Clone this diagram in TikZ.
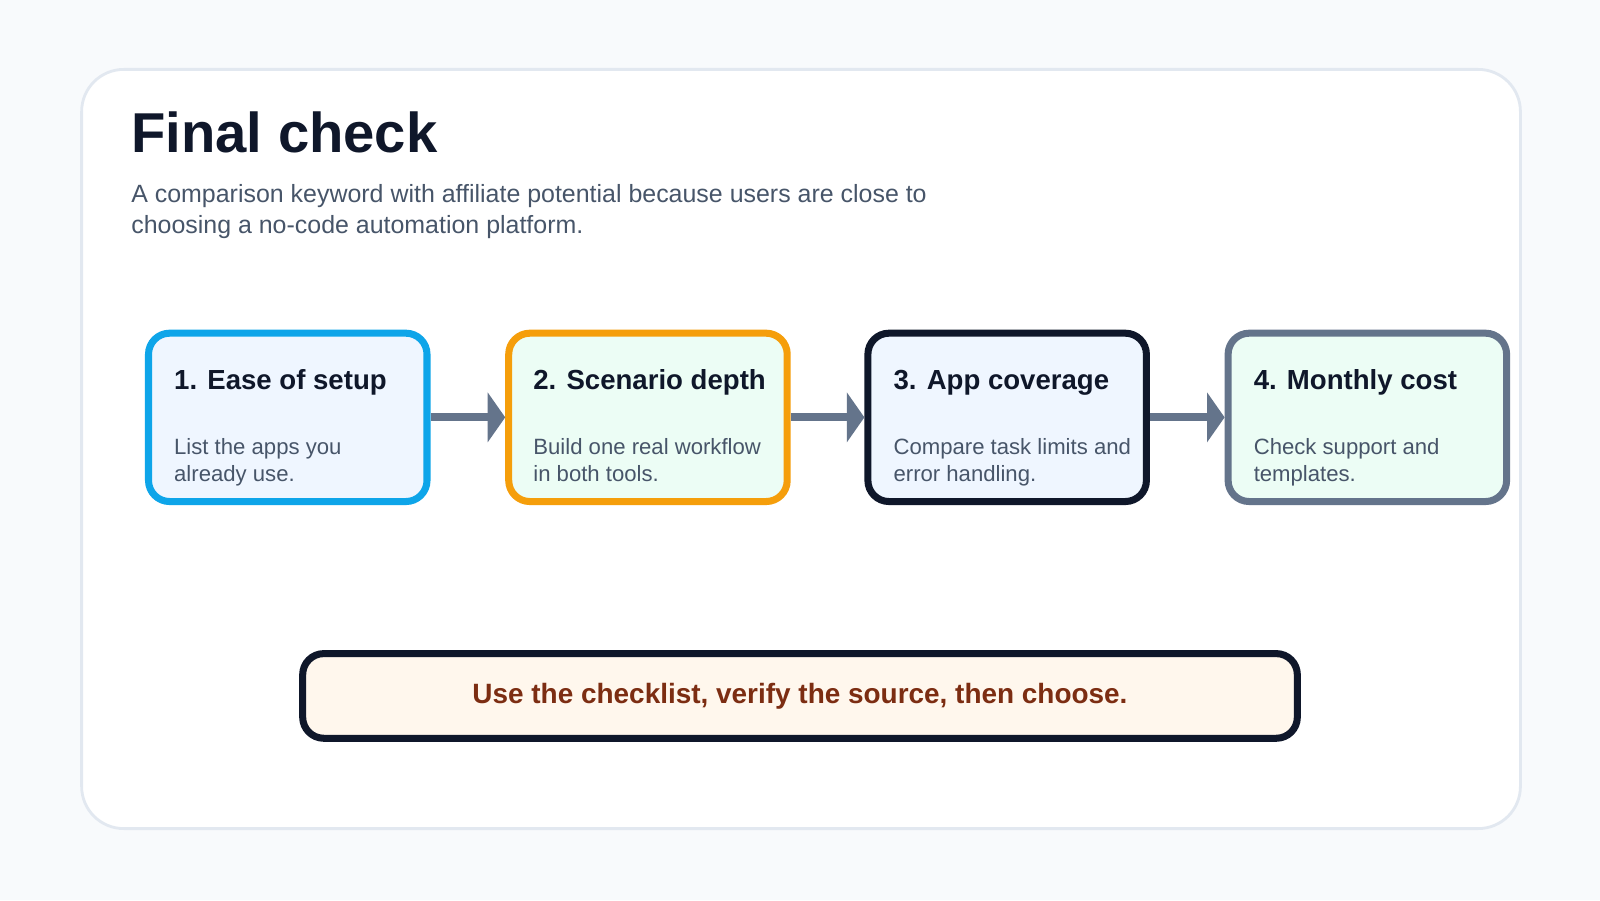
\documentclass[tikz,border=0pt]{standalone}
\usepackage{fontspec}
\setmainfont{Liberation Sans}
\usetikzlibrary{arrows.meta,positioning}
\definecolor{pagebg}{HTML}{F8FAFC}
\definecolor{cardline}{HTML}{E2E8F0}
\definecolor{ink}{HTML}{0F172A}
\definecolor{muted}{HTML}{475569}
\definecolor{slate}{HTML}{64748B}
\definecolor{sky}{HTML}{0EA5E9}
\definecolor{amber}{HTML}{F59E0B}
\definecolor{bluefill}{HTML}{EFF6FF}
\definecolor{greenfill}{HTML}{ECFDF5}
\definecolor{creamfill}{HTML}{FFF7ED}
\definecolor{rust}{HTML}{7C2D12}
\tikzset{
  stepbox/.style={draw, rectangle, rounded corners=6pt, line width=2pt,
    minimum width=2.786cm, minimum height=1.684cm, inner sep=0pt},
  steptitle/.style={anchor=base west, font=\fontsize{7.85}{9}\selectfont\bfseries, text=ink, inner sep=0pt},
  stepbody/.style={anchor=base west, font=\fontsize{6.3}{7.6}\selectfont, text=muted, inner sep=0pt,
    align=left},
  flow/.style={draw=slate, line width=2.3pt, -{Triangle[length=5pt, width=14pt]}}
}
\begin{document}
\begin{tikzpicture}[x={0.010204cm}, y={-0.010204cm}]
  \fill[pagebg] (0,0) rectangle (1568,882);
  \useasboundingbox (0,0) rectangle (1568,882);
  \draw[cardline, fill=white, line width=0.8pt, rounded corners=12pt] (80,68) rectangle (1490,812);

  \node[anchor=base west, inner sep=0pt, font=\fontsize{16}{18}\selectfont\bfseries, text=ink]
    (title) at (128,149) {Final check};
  \node[anchor=base west, inner sep=0pt, font=\fontsize{7.1}{9}\selectfont, text=muted, align=left]
    (sub) at (128,229) {A comparison keyword with affiliate potential because users are close to\\choosing a no-code automation platform.};

  % steps
  \node[stepbox, draw=sky, fill=bluefill] (s1) at (282,409) {};
  \node[stepbox, draw=amber, fill=greenfill] (s2) at (635,409) {};
  \node[stepbox, draw=ink, fill=bluefill] (s3) at (987,409) {};
  \node[stepbox, draw=slate, fill=greenfill] (s4) at (1340,409) {};

  \node[steptitle] (t1) at (170,382) {1. Ease of setup};
  \node[steptitle] (t2) at (522,382) {2. Scenario depth};
  \node[steptitle] (t3) at (875,382) {3. App coverage};
  \node[steptitle] (t4) at (1228,382) {4. Monthly cost};

  \node[stepbody] (b1) at (170,472) {List the apps you\\already use.};
  \node[stepbody] (b2) at (522,472) {Build one real workflow\\in both tools.};
  \node[stepbody] (b3) at (875,472) {Compare task limits and\\error handling.};
  \node[stepbody] (b4) at (1228,472) {Check support and\\templates.};

  \draw[flow] (s1.east) -- (s2.west);
  \draw[flow] (s2.east) -- (s3.west);
  \draw[flow] (s3.east) -- (s4.west);

  % verdict
  \node[draw=ink, fill=creamfill, line width=2pt, rounded corners=6pt, minimum width=9.95cm,
    minimum height=0.847cm, font=\fontsize{7.95}{9}\selectfont\bfseries, text=rust]
    (verdict) at (784,682) {Use the checklist, verify the source, then choose.};
\end{tikzpicture}
\end{document}
